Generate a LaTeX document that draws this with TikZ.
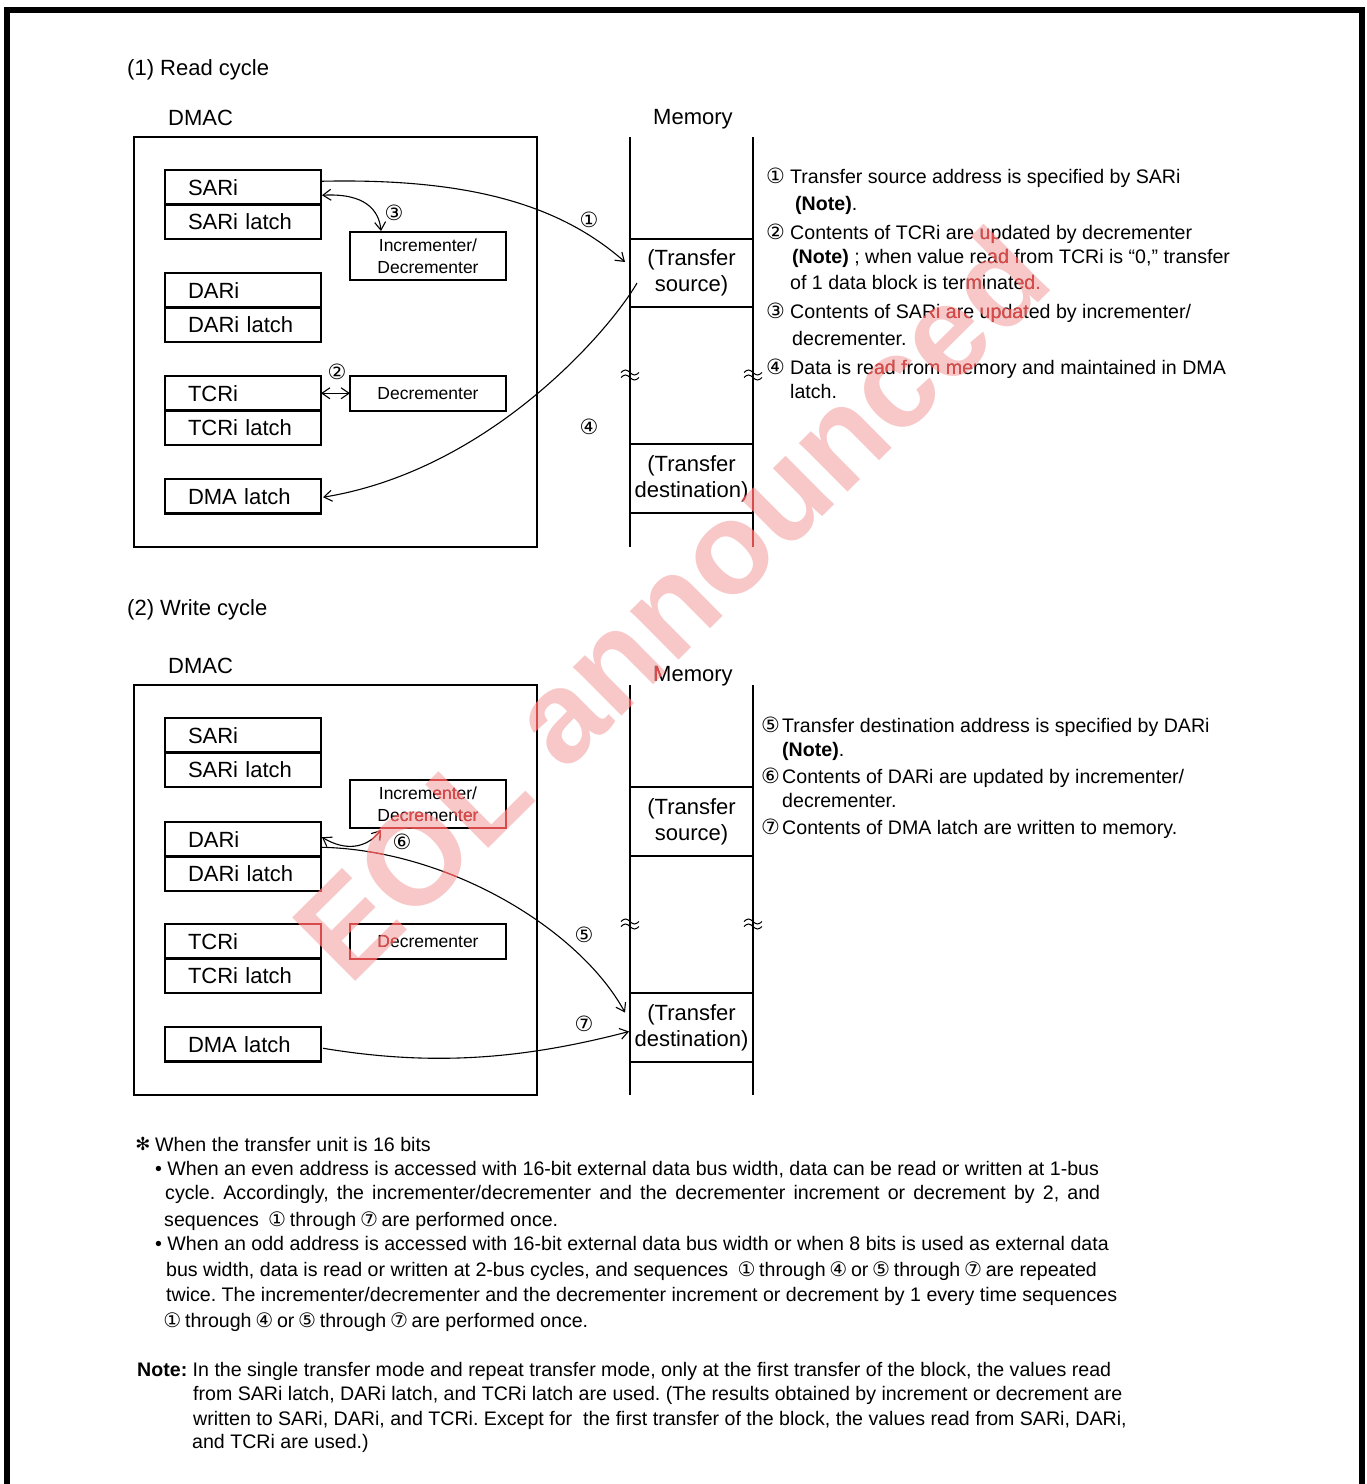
\documentclass[tikz,border=0pt]{standalone}
\usepackage{fontspec}
\setmainfont{Liberation Sans}
\newfontfamily\symfont{DejaVu Sans}
\usetikzlibrary{arrows.meta,calc}

\newcommand\fsz[1]{\fontsize{#1}{#1}\selectfont}
\newcommand\circd[1]{\makebox[14.5pt]{\symfont\fontsize{20}{20}\selectfont #1}}

\definecolor{wmpink}{RGB}{248,200,200}
\definecolor{wmred}{RGB}{215,75,75}

\tikzset{
  reg/.style={draw, line width=2.6pt, minimum width=156pt, minimum height=34.5pt,
    text width=110pt, inner xsep=23pt, inner ysep=0pt, outer sep=0pt,
    align=left, font=\fsz{22}, anchor=north west},
  unit/.style={draw, line width=2.6pt, minimum width=156pt, inner sep=0pt, outer sep=0pt,
    align=center, font=\fontsize{17.5}{21.5}\selectfont, anchor=north west},
  dmac/.style={draw, line width=2.6pt, minimum width=403pt, minimum height=410pt,
    inner sep=0pt, outer sep=0pt, anchor=north west},
  memblk/.style={draw, line width=2.3pt, minimum width=123pt, inner sep=0pt, outer sep=0pt,
    align=center, font=\fontsize{22}{26}\selectfont},
  memline/.style={line width=2.3pt},
  % double tilde marking an omitted stretch of the memory column
  brkmark/.pic={
    \draw[line width=1pt] (-9,-2.5) sin (-4.5,-5) cos (0,-2.5) sin (4.5,0) cos (9,-2.5);
    \draw[line width=1pt] (-9,2.5) sin (-4.5,0) cos (0,2.5) sin (4.5,5) cos (9,2.5);
  },
  num/.style={inner sep=0pt, font=\symfont\fsz{21}},
  arr/.style={line width=1.1pt},
  tip/.tip={Straight Barb[length=8pt,width=11pt,line width=1.1pt]},
  txt/.style={anchor=base west, inner sep=0pt, font=\fsz{19.6}},
  head/.style={anchor=base west, inner sep=0pt, font=\fsz{22}},
  wm/.style={anchor=base, rotate=44.8, inner sep=0pt,
    font=\fontsize{130}{130}\selectfont\bfseries},
}

\begin{document}
\frenchspacing
\begin{tikzpicture}[x=1pt, y=-1pt]
\useasboundingbox (0,0) rectangle (1367,1484);
\fill[white] (0,0) rectangle (1367,1484);

% watermark, light layer underneath everything
\node[wm, text=wmpink] (wmlow) at (703,636) {EOL announced};

% outer frame
\draw[line width=6pt, line join=miter] (7,1495) -- (7,9.5) -- (1361.5,9.5) -- (1361.5,1495);

% ---------------- (1) Read cycle ----------------
\node[head] (title1) at (127,75) {(1) Read cycle};
\node[head] (dmaclab1) at (168,125) {DMAC};
\node[head] (memlab1) at (653,124) {Memory};

\node[dmac] (dm1) at (134,137) {};

\node[reg] (sar1)  at (165,170)   {SARi};
\node[reg] (sarl1) at (165,204.5) {SARi latch};
\node[reg] (dar1)  at (165,273)   {DARi};
\node[reg] (darl1) at (165,307.5) {DARi latch};
\node[reg] (tcr1)  at (165,376)   {TCRi};
\node[reg] (tcrl1) at (165,410.5) {TCRi latch};
\node[reg] (dma1)  at (165,479)   {DMA latch};

\node[unit, minimum height=48pt] (inc1) at (350,232) {Incrementer/\\Decrementer};
\node[unit, minimum height=35pt] (dec1) at (350,376) {Decrementer};

% memory column
\draw[memline] (630,137) -- (630,547);
\draw[memline] (753,137) -- (753,547);
\node[memblk, minimum height=68pt]   (src1) at (691.5,273)   {(Transfer\\source)};
\node[memblk, minimum height=68.5pt] (dst1) at (691.5,478.5) {(Transfer\\destination)};
\pic (brk1a) at (630,375) {brkmark};
\pic (brk1b) at (753,375) {brkmark};

% connectors
\draw[arr, -tip] ($(sar1.east)+(0,-6)$) .. controls (470,178) and (560,205) .. ($(src1.west)+(-5,-11)$);
\draw[arr, tip-tip] ($(sar1.east)+(1,8)$) .. controls (365,193) and (379,210) .. ($(inc1.north)+(-47,-1)$);
\draw[arr, tip-tip] (tcr1.east) -- (tcr1.east -| dec1.west);
\draw[arr, -tip] ($(src1.west)+(7,10)$) .. controls (610,330) and (490,470) .. ($(dma1.east)+(2,1)$);

\node[num] (n1) at (589,220) {①};
\node[num] (n3) at (394,213) {③};
\node[num] (n2) at (337,372) {②};
\node[num] (n4) at (589,427) {④};

% explanation (1)
\node[num] (e1) at (775.5,176) {①};
\node[txt] (r1a) at (790,183) {Transfer source address is specified by SARi};
\node[txt] (r1b) at (795,210) {\textbf{(Note)}.};
\node[num] (e2) at (775.5,232) {②};
\node[txt] (r2a) at (790,239) {Contents of TCRi are updated by decrementer};
\node[txt] (r2b) at (792,263) {\textbf{(Note)} ; when value read from TCRi is “0,” transfer};
\node[txt] (r2c) at (790,289) {of 1 data block is terminated.};
\node[num] (e3) at (775.5,311) {③};
\node[txt] (r3a) at (790,318) {Contents of SARi are updated by incrementer/};
\node[txt] (r3b) at (792,345) {decrementer.};
\node[num] (e4) at (775.5,367) {④};
\node[txt] (r4a) at (790,374) {Data is read from memory and maintained in DMA};
\node[txt] (r4b) at (790,398) {latch.};

% ---------------- (2) Write cycle ----------------
\node[head] (title2) at (127,615) {(2) Write cycle};
\node[head] (dmaclab2) at (168,673) {DMAC};
\node[head] (memlab2) at (653,681) {Memory};

\node[dmac] (dm2) at (134,685) {};

\node[reg] (sar2)  at (165,718)   {SARi};
\node[reg] (sarl2) at (165,752.5) {SARi latch};
\node[reg] (dar2)  at (165,822)   {DARi};
\node[reg] (darl2) at (165,856.5) {DARi latch};
\node[reg] (tcr2)  at (165,924)   {TCRi};
\node[reg] (tcrl2) at (165,958.5) {TCRi latch};
\node[reg] (dma2)  at (165,1027)  {DMA latch};

\node[unit, minimum height=48pt] (inc2) at (350,780) {Incrementer/\\Decrementer};
\node[unit, minimum height=35pt] (dec2) at (350,924) {Decrementer};

\draw[memline] (630,685) -- (630,1095);
\draw[memline] (753,685) -- (753,1095);
\node[memblk, minimum height=69pt] (src2) at (691.5,821.5)  {(Transfer\\source)};
\node[memblk, minimum height=69pt] (dst2) at (691.5,1027.5) {(Transfer\\destination)};
\pic (brk2a) at (630,924) {brkmark};
\pic (brk2b) at (753,924) {brkmark};

\draw[arr, tip-tip] ($(dar2.east)+(1,-2)$) .. controls (345,851) and (366,849) .. ($(inc2.south)+(-47,2)$);
\draw[arr, -tip] ($(dar2.east)+(0,8)$) .. controls (450,850) and (580,930) .. ($(dst2.west)+(-5,-15)$);
\draw[arr, -tip] ($(dma2.east)+(2,4)$) .. controls (430,1066) and (520,1060) .. ($(dst2.west)+(-1,4)$);

\node[num] (n6) at (402,842) {⑥};
\node[num] (n5) at (584,935) {⑤};
\node[num] (n7) at (584,1024) {⑦};

% explanation (2)
\node[num] (e5) at (770.5,725) {⑤};
\node[txt] (r5a) at (782,732) {Transfer destination address is specified by DARi};
\node[txt] (r5b) at (782,756) {\textbf{(Note)}.};
\node[num] (e6) at (770.5,776) {⑥};
\node[txt] (r6a) at (782,783) {Contents of DARi are updated by incrementer/};
\node[txt] (r6b) at (782,807) {decrementer.};
\node[num] (e7) at (770.5,827) {⑦};
\node[txt] (r7a) at (782,834) {Contents of DMA latch are written to memory.};

% ---------------- remarks ----------------
\node[inner sep=0pt, font=\symfont\fsz{18}] (star) at (143,1144) {✻};
\node[txt] (f1) at (155,1151) {When the transfer unit is 16 bits};
\node[txt] (f2) at (155,1175) {•\ When an even address is accessed with 16-bit external data bus width, data can be read or written at 1-bus};
\node[txt] (f3) at (165,1199) {\makebox[935pt][s]{cycle. Accordingly, the incrementer/decrementer and the decrementer increment or decrement by 2, and}};
\node[txt] (f4) at (164,1226) {sequences\ \ \circd{①} through \circd{⑦} are performed once.};
\node[txt] (f5) at (155,1250) {•\ When an odd address is accessed with 16-bit external data bus width or when 8 bits is used as external data};
\node[txt] (f6) at (166,1276) {bus width, data is read or written at 2-bus cycles, and sequences\ \ \circd{①} through \circd{④} or \circd{⑤} through \circd{⑦} are repeated};
\node[txt] (f7) at (166,1301) {twice. The incrementer/decrementer and the decrementer increment or decrement by 1 every time sequences};
\node[txt] (f8) at (165,1327) {\circd{①} through \circd{④} or \circd{⑤} through \circd{⑦} are performed once.};

\node[txt] (nt1) at (137,1376) {\textbf{Note:} In the single transfer mode and repeat transfer mode, only at the first transfer of the block, the values read};
\node[txt] (nt2) at (193,1400) {from SARi latch, DARi latch, and TCRi latch are used. (The results obtained by increment or decrement are};
\node[txt] (nt3) at (193,1425) {written to SARi, DARi, and TCRi. Except for\ \ the first transfer of the block, the values read from SARi, DARi,};
\node[txt] (nt4) at (192,1448) {and TCRi are used.)};

% watermark, tinting the linework it crosses
\begin{scope}[blend mode=lighten]
\node[wm, text=wmred] (wmtop) at (703,636) {EOL announced};
\end{scope}
\end{tikzpicture}
\end{document}
